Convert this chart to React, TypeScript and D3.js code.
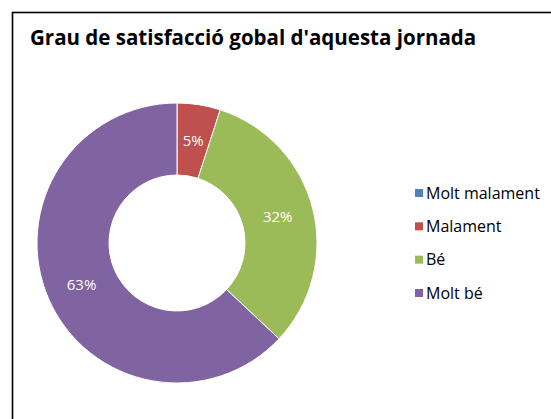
import * as React from "react";
import * as d3 from "d3";

const categories = ["Molt malament", "Malament", "Bé", "Molt bé"];
const values = [0, 5, 32, 63];
const colors = ["#4F81BD", "#C0504D", "#9BBB59", "#8064A2"];
const title = "Grau de satisfacció gobal d'aquesta jornada";

const FONT = "'Open Sans', Lato, sans-serif";

export default function App() {
  const width = 551, height = 419;
  const cx = 177, cy = 243;
  const outerR = 140, innerR = 68;

  const pie = d3.pie<number>().sort(null).value(d => d);
  const arcs = pie(values);
  const arc = d3.arc<d3.PieArcDatum<number>>().innerRadius(innerR).outerRadius(outerR);
  const total = d3.sum(values);

  const legendY = d3.scalePoint<string>()
    .domain(categories)
    .range([193, 293]);

  return (
    <svg width={width} height={height}
      style={{position: "absolute", left: 0, top: 0, background: "#fff"}}>
      <rect x={12.5} y={12.5} width={width + 20} height={height + 20}
        fill="#fff" stroke="#000" strokeWidth={1.6}/>
      <text x={30} y={45} fontFamily={FONT} fontWeight="bold" fontSize={20.5} fill="#000">
        {title}
      </text>
      <g transform={`translate(${cx},${cy})`}>
        {arcs.map((a, i) => (
          <path key={i} d={arc(a) || ""} fill={colors[i]} stroke="#fff" strokeWidth={1}/>
        ))}
        {arcs.map((a, i) => {
          if (!a.value) return null;
          const [x, y] = arc.centroid(a);
          return (
            <text key={"l" + i} x={x} y={y} dy="0.35em" textAnchor="middle"
              fontFamily={FONT} fontSize={15} fill="#fff">
              {Math.round(a.value / total * 100) + "%"}
            </text>
          );
        })}
      </g>
      <g>
        {categories.map((c, i) => (
          <g key={c} transform={`translate(415,${legendY(c)})`}>
            <rect x={0} y={-4} width={8} height={8} fill={colors[i]}/>
            <text x={11} y={0} dy="0.35em" fontFamily={FONT} fontSize={16} fill="#000">{c}</text>
          </g>
        ))}
      </g>
    </svg>
  );
}
